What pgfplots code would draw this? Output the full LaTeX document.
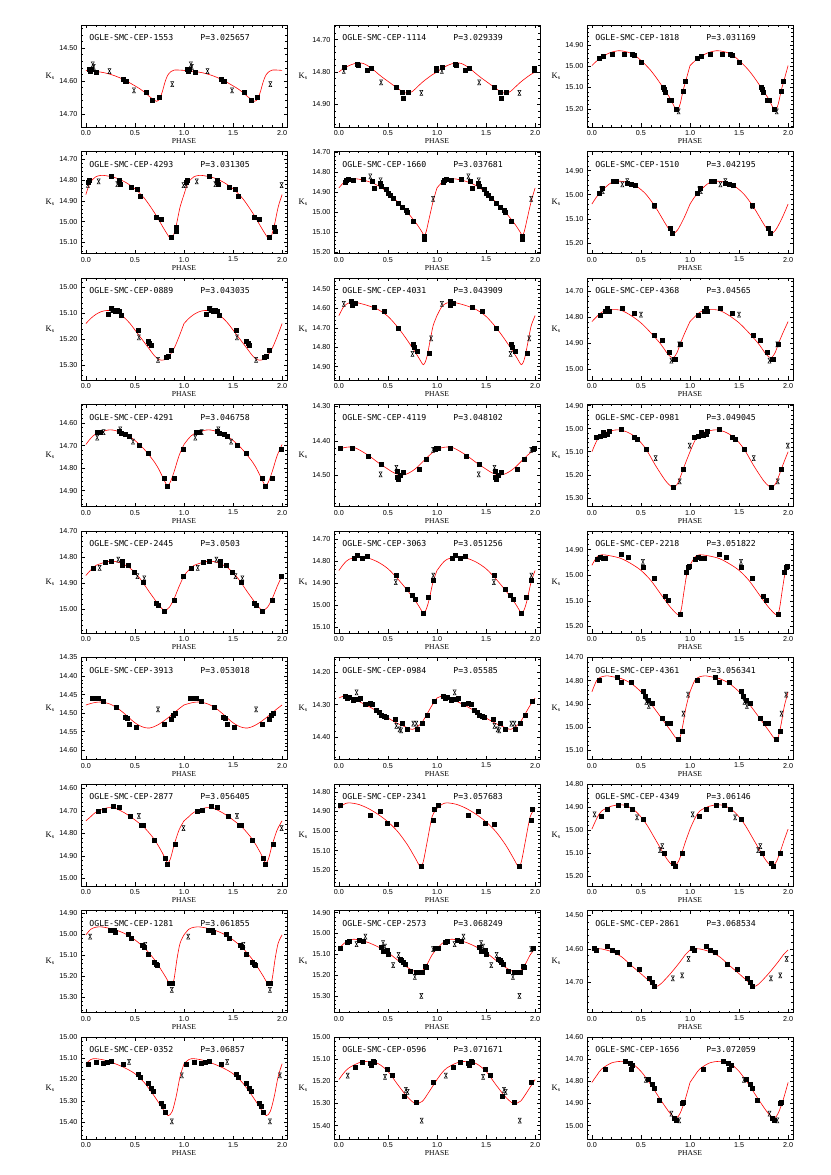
\documentclass[border=0pt]{standalone}
\usepackage{fontspec}
\setmainfont{Liberation Sans}
\newfontfamily\ttlfont{DejaVu Sans Mono}
\newfontfamily\lblfont{Liberation Serif}
\usepackage{pgfplots}
\pgfplotsset{compat=1.18}

% error-bar cross: an X closed by short caps top and bottom
\pgfdeclareplotmark{hg}{%
  \pgfpathmoveto{\pgfqpoint{-0.6\pgfplotmarksize}{\pgfplotmarksize}}%
  \pgfpathlineto{\pgfqpoint{0.6\pgfplotmarksize}{\pgfplotmarksize}}%
  \pgfpathlineto{\pgfqpoint{-0.6\pgfplotmarksize}{-\pgfplotmarksize}}%
  \pgfpathlineto{\pgfqpoint{0.6\pgfplotmarksize}{-\pgfplotmarksize}}%
  \pgfpathclose
  \pgfusepathqstroke}

\tikzset{ttl/.style={anchor=west, inner sep=0pt, font=\ttlfont\fontsize{8.2}{9}\selectfont}}
\pgfplotsset{
  /pgf/number format/assume math mode=true,
  curve/.style={red, line width=0.6pt, smooth, tension=0.5, no markers},
  sq/.style={only marks, mark=square*, mark size=2pt, black},
  cr/.style={only marks, mark=hg, mark size=2.5pt, black, mark options={line width=0.5pt}},
  lc/.style={
    scale only axis, width=206pt, height=102pt, anchor=north west,
    xmin=-0.05, xmax=2.05, y dir=reverse,
    xtick={0,0.5,1,1.5,2}, minor x tick num=4,
    ytick distance=0.1, minor y tick num=4,
    xticklabel pos=lower, yticklabel pos=left,
    xtick pos=both, ytick pos=both,
    tick align=inside, major tick length=3.5pt, minor tick length=1.8pt,
    axis line style={line width=0.5pt},
    every tick/.style={black, line width=0.4pt},
    tick label style={font=\fontsize{7.2}{8}\selectfont},
    xticklabel style={/pgf/number format/.cd, fixed, fixed zerofill, precision=1},
    yticklabel style={/pgf/number format/.cd, fixed, fixed zerofill, precision=2},
    xlabel={PHASE}, ylabel={K\textsubscript{s}},
    every axis x label/.style={at={(axis description cs:0.5,-0.14)}, anchor=center, font=\lblfont\fontsize{7.6}{8}\selectfont},
    every axis y label/.style={at={(axis description cs:-0.15,0.5)}, anchor=center, font=\lblfont\fontsize{8.5}{9}\selectfont},
  },
}

% #1 axis options, #2 star, #3 period, #4 fitted curve (phase 0-1),
% #5 filled points, #6 crosses; each table is repeated at phase+1
\newcommand{\lc}[6]{%
\begin{axis}[lc,#1]
\addplot[curve] table[row sep=\\] {#4};
\addplot[curve] table[row sep=\\, x expr=\thisrowno{0}+1] {#4};
\addplot[sq] table[row sep=\\] {#5};
\addplot[sq] table[row sep=\\, x expr=\thisrowno{0}+1] {#5};
\if\relax\detokenize{#6}\relax\else
\addplot[cr] table[row sep=\\] {#6};
\addplot[cr] table[row sep=\\, x expr=\thisrowno{0}+1] {#6};
\fi
\node[ttl] at (axis description cs:0.04,0.873) {OGLE-SMC-CEP-#2};
\node[ttl] at (axis description cs:0.579,0.873) {P=#3};
\end{axis}}

\begin{document}
\begin{tikzpicture}
\useasboundingbox (0,0) rectangle (830pt,1175pt);

% ---- row 1
\lc{at={(81pt,1150pt)}, ymin=14.43, ymax=14.74}{1553}{3.025657}
{0 14.568\\ 0.1 14.571\\ 0.2 14.576\\ 0.3 14.585\\ 0.4 14.598\\ 0.5 14.615\\ 0.55 14.624\\ 0.6 14.635\\ 0.65 14.648\\ 0.7 14.659\\ 0.72 14.662\\ 0.74 14.659\\ 0.76 14.648\\ 0.78 14.632\\ 0.8 14.61\\ 0.82 14.592\\ 0.84 14.58\\ 0.87 14.571\\ 0.9 14.567\\ 0.95 14.567\\ 1 14.568\\}
{0.03 14.565\\ 0.04 14.57\\ 0.05 14.565\\ 0.11 14.574\\ 0.38 14.594\\ 0.40 14.60\\ 0.41 14.60\\ 0.61 14.635\\ 0.68 14.66\\ 0.75 14.65\\}
{0.07 14.55\\ 0.08 14.557\\ 0.24 14.57\\ 0.49 14.629\\ 0.88 14.61\\}

\lc{at={(334pt,1150pt)}, ymin=14.655, ymax=14.97}{1114}{3.029339}
{0 14.800\\ 0.05 14.789\\ 0.1 14.781\\ 0.15 14.775\\ 0.2 14.772\\ 0.25 14.774\\ 0.3 14.782\\ 0.35 14.793\\ 0.4 14.806\\ 0.45 14.818\\ 0.5 14.829\\ 0.55 14.84\\ 0.6 14.851\\ 0.65 14.861\\ 0.7 14.866\\ 0.75 14.86\\ 0.8 14.846\\ 0.85 14.832\\ 0.9 14.82\\ 0.95 14.809\\ 1 14.8\\}
{0.05 14.785\\ 0.19 14.775\\ 0.20 14.779\\ 0.29 14.794\\ 0.33 14.787\\ 0.58 14.846\\ 0.645 14.862\\ 0.656 14.88\\ 0.71 14.862\\ 0.99 14.787\\ 0.995 14.794\\}
{0.05 14.797\\ 0.43 14.832\\ 0.84 14.865\\}

\lc{at={(587pt,1150pt)}, ymin=14.806, ymax=15.286}{1818}{3.031169}
{0 14.997\\ 0.05 14.975\\ 0.1 14.958\\ 0.15 14.944\\ 0.2 14.934\\ 0.27 14.927\\ 0.33 14.93\\ 0.4 14.939\\ 0.45 14.953\\ 0.5 14.973\\ 0.55 14.995\\ 0.6 15.02\\ 0.65 15.05\\ 0.7 15.083\\ 0.75 15.118\\ 0.8 15.153\\ 0.84 15.19\\ 0.87 15.21\\ 0.9 15.177\\ 0.93 15.114\\ 0.96 15.064\\ 1 14.997\\}
{0.07 14.963\\ 0.118 14.953\\ 0.21 14.945\\ 0.33 14.944\\ 0.41 14.942\\ 0.43 14.95\\ 0.50 14.981\\ 0.73 15.10\\ 0.74 15.11\\ 0.75 15.122\\ 0.79 15.161\\ 0.81 15.161\\ 0.857 15.202\\ 0.928 15.119\\ 0.955 15.07\\}
{0.884 15.213\\}

% ---- row 2
\lc{at={(81pt,1023.5pt)}, ymin=14.663, ymax=15.153}{4293}{3.031305}
{0 14.87\\ 0.025 14.833\\ 0.05 14.807\\ 0.1 14.785\\ 0.15 14.778\\ 0.2 14.779\\ 0.3 14.789\\ 0.4 14.81\\ 0.5 14.842\\ 0.6 14.89\\ 0.7 14.958\\ 0.8 15.038\\ 0.85 15.075\\ 0.87 15.085\\ 0.89 15.07\\ 0.92 15.02\\ 0.96 14.93\\ 1 14.87\\}
{0.02 14.812\\ 0.03 14.80\\ 0.26 14.78\\ 0.335 14.80\\ 0.35 14.82\\ 0.465 14.836\\ 0.52 14.844\\ 0.557 14.879\\ 0.72 14.977\\ 0.77 14.988\\ 0.87 15.076\\ 0.92 15.028\\ 0.925 15.044\\}
{0.02 14.823\\ 0.13 14.807\\ 0.32 14.82\\ 0.995 14.825\\}

\lc{at={(334pt,1023.5pt)}, ymin=14.695, ymax=15.205}{1660}{3.037681}
{0 14.877\\ 0.05 14.85\\ 0.1 14.838\\ 0.15 14.832\\ 0.2 14.833\\ 0.3 14.845\\ 0.4 14.866\\ 0.5 14.9\\ 0.6 14.948\\ 0.7 15.0\\ 0.8 15.062\\ 0.85 15.1\\ 0.87 15.115\\ 0.89 15.095\\ 0.92 15.03\\ 0.96 14.945\\ 1 14.877\\}
{0.06 14.847\\ 0.075 14.84\\ 0.09 14.836\\ 0.145 14.84\\ 0.25 14.836\\ 0.34 14.844\\ 0.36 14.877\\ 0.425 14.852\\ 0.435 14.869\\ 0.48 14.885\\ 0.5 14.902\\ 0.52 14.915\\ 0.55 14.93\\ 0.60 14.952\\ 0.645 14.976\\ 0.69 14.988\\ 0.695 15.0\\ 0.76 15.043\\ 0.87 15.117\\ 0.872 15.134\\}
{0.32 14.82\\ 0.425 14.84\\ 0.96 14.932\\}

\lc{at={(587pt,1023.5pt)}, ymin=14.821, ymax=15.244}{1510}{3.042195}
{0 15.039\\ 0.05 15.008\\ 0.1 14.985\\ 0.15 14.965\\ 0.2 14.95\\ 0.27 14.944\\ 0.35 14.948\\ 0.45 14.964\\ 0.55 14.998\\ 0.65 15.053\\ 0.75 15.121\\ 0.8 15.151\\ 0.83 15.162\\ 0.87 15.148\\ 0.9 15.128\\ 0.95 15.087\\ 1 15.039\\}
{0.077 14.994\\ 0.104 14.975\\ 0.22 14.946\\ 0.25 14.945\\ 0.36 14.953\\ 0.40 14.957\\ 0.44 14.959\\ 0.635 15.043\\ 0.793 15.141\\ 0.82 15.158\\}
{0.094 14.978\\ 0.11 14.985\\ 0.31 14.957\\ 0.36 14.944\\ 0.635 15.048\\}

% ---- row 3
\lc{at={(81pt,897pt)}, ymin=14.964, ymax=15.358}{0889}{3.043035}
{0 15.14\\ 0.05 15.12\\ 0.1 15.105\\ 0.15 15.095\\ 0.2 15.09\\ 0.25 15.09\\ 0.3 15.095\\ 0.35 15.105\\ 0.4 15.12\\ 0.45 15.14\\ 0.5 15.165\\ 0.55 15.19\\ 0.6 15.215\\ 0.65 15.24\\ 0.7 15.265\\ 0.75 15.28\\ 0.8 15.28\\ 0.85 15.265\\ 0.9 15.235\\ 0.95 15.19\\ 1 15.14\\}
{0.23 15.105\\ 0.26 15.081\\ 0.28 15.09\\ 0.30 15.093\\ 0.32 15.09\\ 0.34 15.094\\ 0.36 15.107\\ 0.53 15.167\\ 0.63 15.21\\ 0.65 15.216\\ 0.665 15.223\\ 0.82 15.27\\ 0.84 15.268\\ 0.87 15.241\\}
{0.27 15.083\\ 0.54 15.193\\ 0.735 15.28\\}

\lc{at={(334pt,897pt)}, ymin=14.443, ymax=14.969}{4031}{3.043909}
{0 14.637\\ 0.05 14.59\\ 0.1 14.572\\ 0.15 14.569\\ 0.2 14.572\\ 0.3 14.586\\ 0.4 14.606\\ 0.5 14.641\\ 0.6 14.697\\ 0.7 14.766\\ 0.8 14.843\\ 0.84 14.877\\ 0.86 14.89\\ 0.88 14.877\\ 0.9 14.843\\ 0.93 14.766\\ 0.96 14.69\\ 1 14.637\\}
{0.13 14.565\\ 0.135 14.582\\ 0.17 14.574\\ 0.355 14.594\\ 0.46 14.615\\ 0.60 14.702\\ 0.76 14.783\\ 0.765 14.80\\ 0.80 14.822\\ 0.92 14.829\\}
{0.05 14.577\\ 0.75 14.834\\ 0.94 14.754\\}

\lc{at={(587pt,897pt)}, ymin=14.649, ymax=15.042}{4368}{3.04565}
{0 14.817\\ 0.1 14.781\\ 0.2 14.771\\ 0.3 14.774\\ 0.4 14.794\\ 0.5 14.822\\ 0.6 14.86\\ 0.7 14.903\\ 0.78 14.945\\ 0.83 14.956\\ 0.87 14.935\\ 0.9 14.903\\ 0.95 14.858\\ 1 14.817\\}
{0.086 14.794\\ 0.14 14.778\\ 0.16 14.765\\ 0.18 14.778\\ 0.31 14.765\\ 0.43 14.785\\ 0.64 14.871\\ 0.72 14.89\\ 0.79 14.935\\ 0.835 14.963\\ 0.85 14.96\\ 0.90 14.903\\}
{0.50 14.79\\ 0.81 14.967\\ 0.89 14.905\\}

% ---- row 4
\lc{at={(81pt,770.5pt)}, ymin=14.517, ymax=14.971}{4291}{3.046758}
{0 14.695\\ 0.05 14.667\\ 0.1 14.648\\ 0.2 14.633\\ 0.25 14.63\\ 0.3 14.633\\ 0.4 14.648\\ 0.5 14.677\\ 0.6 14.719\\ 0.7 14.774\\ 0.75 14.811\\ 0.8 14.856\\ 0.83 14.878\\ 0.86 14.863\\ 0.9 14.815\\ 0.95 14.744\\ 1 14.695\\}
{0.12 14.64\\ 0.15 14.64\\ 0.335 14.634\\ 0.357 14.643\\ 0.405 14.648\\ 0.44 14.659\\ 0.54 14.698\\ 0.63 14.732\\ 0.795 14.844\\ 0.83 14.881\\ 0.90 14.847\\ 0.995 14.714\\}
{0.115 14.664\\ 0.18 14.64\\ 0.35 14.628\\ 0.48 14.682\\}

\lc{at={(334pt,770.5pt)}, ymin=14.295, ymax=14.59}{4119}{3.048102}
{0 14.425\\ 0.05 14.42\\ 0.1 14.418\\ 0.15 14.419\\ 0.2 14.425\\ 0.3 14.442\\ 0.4 14.463\\ 0.5 14.482\\ 0.55 14.491\\ 0.6 14.497\\ 0.65 14.499\\ 0.7 14.495\\ 0.75 14.487\\ 0.8 14.476\\ 0.85 14.462\\ 0.9 14.448\\ 0.95 14.435\\ 1 14.425\\}
{0.016 14.422\\ 0.134 14.42\\ 0.30 14.444\\ 0.43 14.468\\ 0.597 14.489\\ 0.598 14.506\\ 0.60 14.51\\ 0.62 14.499\\ 0.656 14.49\\ 0.82 14.481\\ 0.887 14.454\\ 0.98 14.424\\ 0.99 14.421\\}
{0.425 14.497\\ 0.586 14.478\\ 0.96 14.426\\}

\lc{at={(587pt,770.5pt)}, ymin=14.895, ymax=15.338}{0981}{3.049045}
{0 15.1\\ 0.05 15.052\\ 0.1 15.023\\ 0.2 15.009\\ 0.27 15.005\\ 0.35 15.013\\ 0.45 15.038\\ 0.55 15.088\\ 0.65 15.161\\ 0.75 15.226\\ 0.8 15.248\\ 0.83 15.255\\ 0.87 15.241\\ 0.9 15.212\\ 0.95 15.154\\ 1 15.1\\}
{0.043 15.035\\ 0.08 15.031\\ 0.11 15.016\\ 0.13 15.03\\ 0.16 15.023\\ 0.18 15.013\\ 0.30 15.004\\ 0.43 15.036\\ 0.46 15.046\\ 0.55 15.087\\ 0.825 15.256\\ 0.93 15.175\\}
{0.65 15.128\\ 0.895 15.229\\ 0.997 15.074\\}

% ---- row 5
\lc{at={(81pt,644pt)}, ymin=14.70, ymax=15.09}{2445}{3.0503}
{0 14.87\\ 0.05 14.849\\ 0.1 14.832\\ 0.2 14.819\\ 0.27 14.815\\ 0.35 14.822\\ 0.45 14.842\\ 0.55 14.881\\ 0.65 14.935\\ 0.75 14.986\\ 0.8 15.003\\ 0.85 14.992\\ 0.9 14.958\\ 0.95 14.912\\ 1 14.87\\}
{0.07 14.841\\ 0.195 14.819\\ 0.26 14.815\\ 0.37 14.817\\ 0.373 14.829\\ 0.43 14.832\\ 0.49 14.858\\ 0.584 14.896\\ 0.72 14.976\\ 0.735 14.983\\ 0.80 15.005\\ 0.90 14.963\\ 0.995 14.874\\}
{0.14 14.841\\ 0.33 14.809\\ 0.524 14.873\\ 0.595 14.881\\}

\lc{at={(334pt,644pt)}, ymin=14.665, ymax=15.127}{3063}{3.051256}
{0 14.844\\ 0.05 14.814\\ 0.1 14.794\\ 0.2 14.782\\ 0.3 14.788\\ 0.4 14.806\\ 0.5 14.836\\ 0.6 14.882\\ 0.7 14.935\\ 0.8 14.995\\ 0.86 15.036\\ 0.89 15.02\\ 0.92 14.975\\ 0.96 14.895\\ 1 14.844\\}
{0.156 14.786\\ 0.19 14.776\\ 0.237 14.788\\ 0.285 14.78\\ 0.58 14.864\\ 0.70 14.93\\ 0.747 14.955\\ 0.78 14.976\\ 0.86 15.038\\ 0.914 14.965\\ 0.957 14.889\\}
{0.58 14.897\\ 0.962 14.867\\}

\lc{at={(587pt,644pt)}, ymin=14.827, ymax=15.226}{2218}{3.051822}
{0 14.961\\ 0.05 14.929\\ 0.1 14.92\\ 0.2 14.925\\ 0.3 14.935\\ 0.4 14.955\\ 0.5 14.981\\ 0.6 15.02\\ 0.7 15.073\\ 0.8 15.125\\ 0.88 15.155\\ 0.91 15.135\\ 0.94 15.06\\ 0.97 14.99\\ 1 14.961\\}
{0.054 14.938\\ 0.08 14.929\\ 0.11 14.935\\ 0.14 14.933\\ 0.30 14.916\\ 0.37 14.931\\ 0.52 14.968\\ 0.63 15.01\\ 0.744 15.083\\ 0.776 15.099\\ 0.895 15.151\\ 0.96 14.99\\ 0.98 14.968\\ 0.987 14.964\\}
{0.52 14.948\\}

% ---- row 6
\lc{at={(81pt,517.5pt)}, ymin=14.35, ymax=14.625, ytick distance=0.05}{3913}{3.053018}
{0 14.478\\ 0.05 14.474\\ 0.1 14.471\\ 0.15 14.47\\ 0.2 14.472\\ 0.25 14.476\\ 0.3 14.483\\ 0.35 14.492\\ 0.4 14.503\\ 0.45 14.515\\ 0.5 14.526\\ 0.55 14.534\\ 0.6 14.539\\ 0.65 14.54\\ 0.7 14.536\\ 0.75 14.529\\ 0.8 14.52\\ 0.85 14.51\\ 0.9 14.499\\ 0.95 14.488\\ 1 14.478\\}
{0.065 14.461\\ 0.097 14.461\\ 0.124 14.459\\ 0.18 14.467\\ 0.31 14.483\\ 0.40 14.51\\ 0.42 14.515\\ 0.44 14.531\\ 0.51 14.537\\ 0.795 14.53\\ 0.87 14.517\\ 0.89 14.506\\ 0.91 14.501\\}
{0.735 14.49\\}

\lc{at={(334pt,517.5pt)}, ymin=14.156, ymax=14.468}{0984}{3.05585}
{0 14.28\\ 0.05 14.274\\ 0.1 14.277\\ 0.2 14.29\\ 0.3 14.305\\ 0.4 14.322\\ 0.5 14.341\\ 0.6 14.358\\ 0.7 14.371\\ 0.75 14.376\\ 0.8 14.368\\ 0.85 14.353\\ 0.9 14.328\\ 0.95 14.302\\ 1 14.28\\}
{0.065 14.274\\ 0.08 14.28\\ 0.10 14.277\\ 0.145 14.287\\ 0.16 14.285\\ 0.2 14.284\\ 0.215 14.279\\ 0.263 14.299\\ 0.317 14.297\\ 0.344 14.299\\ 0.376 14.317\\ 0.414 14.324\\ 0.435 14.331\\ 0.457 14.335\\ 0.478 14.338\\ 0.575 14.345\\ 0.645 14.356\\ 0.694 14.376\\ 0.795 14.376\\ 0.844 14.356\\ 0.898 14.331\\ 0.968 14.289\\}
{0.18 14.263\\ 0.586 14.365\\ 0.618 14.376\\ 0.634 14.379\\ 0.758 14.358\\ 0.79 14.358\\}

\lc{at={(587pt,517.5pt)}, ymin=14.70, ymax=15.14}{4361}{3.056341}
{0 14.848\\ 0.05 14.798\\ 0.1 14.783\\ 0.16 14.779\\ 0.2 14.782\\ 0.3 14.791\\ 0.4 14.812\\ 0.5 14.848\\ 0.6 14.899\\ 0.7 14.956\\ 0.8 15.014\\ 0.87 15.054\\ 0.9 15.042\\ 0.93 14.985\\ 0.96 14.913\\ 1 14.848\\}
{0.07 14.80\\ 0.26 14.786\\ 0.30 14.808\\ 0.40 14.808\\ 0.52 14.845\\ 0.54 14.865\\ 0.577 14.884\\ 0.61 14.899\\ 0.717 14.963\\ 0.765 14.985\\ 0.80 14.985\\ 0.88 15.053\\ 0.92 15.018\\}
{0.555 14.891\\ 0.58 14.909\\ 0.933 14.942\\ 0.98 14.86\\}

% ---- row 7
\lc{at={(81pt,391pt)}, ymin=14.58, ymax=15.034}{2877}{3.056405}
{0 14.744\\ 0.05 14.725\\ 0.1 14.706\\ 0.2 14.688\\ 0.25 14.685\\ 0.3 14.688\\ 0.4 14.71\\ 0.5 14.74\\ 0.6 14.776\\ 0.7 14.828\\ 0.78 14.887\\ 0.83 14.93\\ 0.86 14.915\\ 0.9 14.85\\ 0.95 14.784\\ 1 14.744\\}
{0.13 14.703\\ 0.19 14.696\\ 0.276 14.681\\ 0.335 14.685\\ 0.454 14.725\\ 0.56 14.762\\ 0.58 14.762\\ 0.70 14.831\\ 0.81 14.912\\ 0.83 14.938\\ 0.91 14.846\\}
{0.54 14.722\\ 0.995 14.776\\}

\lc{at={(334pt,391pt)}, ymin=14.76, ymax=15.28}{2341}{3.057683}
{0 14.885\\ 0.05 14.864\\ 0.1 14.856\\ 0.2 14.864\\ 0.3 14.885\\ 0.4 14.915\\ 0.5 14.953\\ 0.6 15.003\\ 0.7 15.071\\ 0.78 15.139\\ 0.83 15.181\\ 0.86 15.156\\ 0.9 15.054\\ 0.95 14.927\\ 1 14.885\\}
{0.016 14.868\\ 0.32 14.919\\ 0.42 14.897\\ 0.495 14.958\\ 0.58 14.966\\ 0.84 15.181\\ 0.957 14.947\\ 0.968 14.89\\}
{}

\lc{at={(587pt,391pt)}, ymin=14.80, ymax=15.243}{4349}{3.06146}
{0 14.996\\ 0.05 14.949\\ 0.1 14.917\\ 0.2 14.896\\ 0.28 14.891\\ 0.35 14.894\\ 0.45 14.92\\ 0.55 14.971\\ 0.65 15.043\\ 0.75 15.116\\ 0.8 15.145\\ 0.84 15.155\\ 0.88 15.138\\ 0.92 15.094\\ 0.96 15.043\\ 1 14.996\\}
{0.097 14.938\\ 0.16 14.91\\ 0.27 14.891\\ 0.345 14.891\\ 0.41 14.91\\ 0.52 14.952\\ 0.74 15.101\\ 0.825 15.142\\ 0.85 15.155\\ 0.916 15.101\\}
{0.027 14.932\\ 0.46 14.945\\ 0.695 15.087\\ 0.717 15.07\\}

% ---- row 8
\lc{at={(81pt,264.5pt)}, ymin=14.887, ymax=15.373}{1281}{3.061855}
{0 15.003\\ 0.05 14.976\\ 0.1 14.967\\ 0.15 14.965\\ 0.2 14.968\\ 0.3 14.979\\ 0.4 14.998\\ 0.5 15.027\\ 0.6 15.067\\ 0.7 15.122\\ 0.8 15.194\\ 0.85 15.233\\ 0.88 15.238\\ 0.9 15.21\\ 0.93 15.114\\ 0.96 15.043\\ 1 15.003\\}
{0.243 14.979\\ 0.29 14.983\\ 0.297 14.99\\ 0.427 15.0\\ 0.465 15.019\\ 0.573 15.051\\ 0.595 15.063\\ 0.638 15.095\\ 0.70 15.133\\ 0.72 15.143\\ 0.73 15.149\\ 0.854 15.233\\ 0.88 15.233\\}
{0.043 15.011\\ 0.605 15.051\\ 0.876 15.265\\}

\lc{at={(334pt,264.5pt)}, ymin=14.89, ymax=15.38}{2573}{3.068249}
{0 15.073\\ 0.05 15.049\\ 0.1 15.033\\ 0.15 15.028\\ 0.2 15.031\\ 0.3 15.044\\ 0.4 15.065\\ 0.5 15.092\\ 0.6 15.129\\ 0.7 15.164\\ 0.8 15.188\\ 0.85 15.18\\ 0.9 15.148\\ 0.95 15.103\\ 1 15.073\\}
{0.016 15.073\\ 0.086 15.044\\ 0.10 15.036\\ 0.21 15.033\\ 0.25 15.039\\ 0.435 15.068\\ 0.45 15.084\\ 0.49 15.081\\ 0.505 15.10\\ 0.624 15.124\\ 0.64 15.127\\ 0.656 15.14\\ 0.672 15.148\\ 0.73 15.183\\ 0.785 15.188\\ 0.81 15.185\\ 0.844 15.185\\ 0.88 15.156\\ 0.887 15.164\\ 0.984 15.073\\}
{0.18 15.052\\ 0.27 15.015\\ 0.45 15.047\\ 0.47 15.063\\ 0.553 15.153\\ 0.608 15.103\\ 0.774 15.209\\ 0.84 15.30\\ 0.96 15.076\\}

\lc{at={(587pt,264.5pt)}, ymin=14.485, ymax=14.79}{2861}{3.068534}
{0 14.603\\ 0.05 14.6\\ 0.1 14.6\\ 0.2 14.608\\ 0.3 14.623\\ 0.4 14.649\\ 0.5 14.674\\ 0.6 14.7\\ 0.65 14.712\\ 0.7 14.705\\ 0.8 14.674\\ 0.9 14.638\\ 0.95 14.618\\ 1 14.603\\}
{0.02 14.599\\ 0.043 14.605\\ 0.16 14.592\\ 0.205 14.603\\ 0.26 14.61\\ 0.38 14.647\\ 0.485 14.662\\ 0.58 14.687\\ 0.61 14.698\\ 0.63 14.712\\}
{0.825 14.688\\ 0.92 14.679\\ 0.985 14.63\\}

% ---- row 9
\lc{at={(81pt,138pt)}, ymin=15.0, ymax=15.48}{0352}{3.06857}
{0 15.126\\ 0.05 15.106\\ 0.1 15.102\\ 0.2 15.11\\ 0.3 15.126\\ 0.4 15.146\\ 0.5 15.173\\ 0.6 15.217\\ 0.7 15.28\\ 0.8 15.35\\ 0.84 15.37\\ 0.88 15.35\\ 0.92 15.28\\ 0.96 15.186\\ 1 15.126\\}
{0.02 15.13\\ 0.10 15.119\\ 0.18 15.125\\ 0.216 15.117\\ 0.254 15.113\\ 0.38 15.13\\ 0.53 15.177\\ 0.55 15.19\\ 0.63 15.216\\ 0.665 15.242\\ 0.686 15.255\\ 0.768 15.313\\ 0.784 15.325\\ 0.81 15.356\\}
{0.44 15.117\\ 0.876 15.397\\ 0.978 15.18\\}

\lc{at={(334pt,138pt)}, ymin=15.0, ymax=15.46}{0596}{3.071671}
{0 15.192\\ 0.05 15.162\\ 0.1 15.14\\ 0.2 15.117\\ 0.3 15.11\\ 0.4 15.12\\ 0.5 15.155\\ 0.6 15.215\\ 0.7 15.271\\ 0.78 15.3\\ 0.85 15.29\\ 0.9 15.26\\ 0.95 15.226\\ 1 15.192\\}
{0.17 15.135\\ 0.237 15.113\\ 0.317 15.117\\ 0.33 15.125\\ 0.35 15.111\\ 0.36 15.114\\ 0.49 15.147\\ 0.54 15.173\\ 0.667 15.268\\ 0.79 15.295\\ 0.962 15.203\\}
{0.09 15.174\\ 0.47 15.18\\ 0.683 15.238\\ 0.70 15.248\\ 0.844 15.377\\}

\lc{at={(587pt,138pt)}, ymin=14.60, ymax=15.06}{1656}{3.072059}
{0 14.805\\ 0.05 14.773\\ 0.1 14.744\\ 0.2 14.717\\ 0.3 14.71\\ 0.4 14.717\\ 0.5 14.755\\ 0.6 14.815\\ 0.7 14.883\\ 0.8 14.946\\ 0.86 14.965\\ 0.9 14.943\\ 0.95 14.883\\ 1 14.805\\}
{0.135 14.744\\ 0.34 14.71\\ 0.39 14.717\\ 0.40 14.743\\ 0.415 14.726\\ 0.577 14.79\\ 0.61 14.815\\ 0.636 14.83\\ 0.69 14.883\\ 0.835 14.965\\ 0.86 14.973\\ 0.917 14.90\\ 0.927 14.895\\}
{0.55 14.793\\ 0.81 14.946\\ 0.89 14.976\\}

\end{tikzpicture}
\end{document}
